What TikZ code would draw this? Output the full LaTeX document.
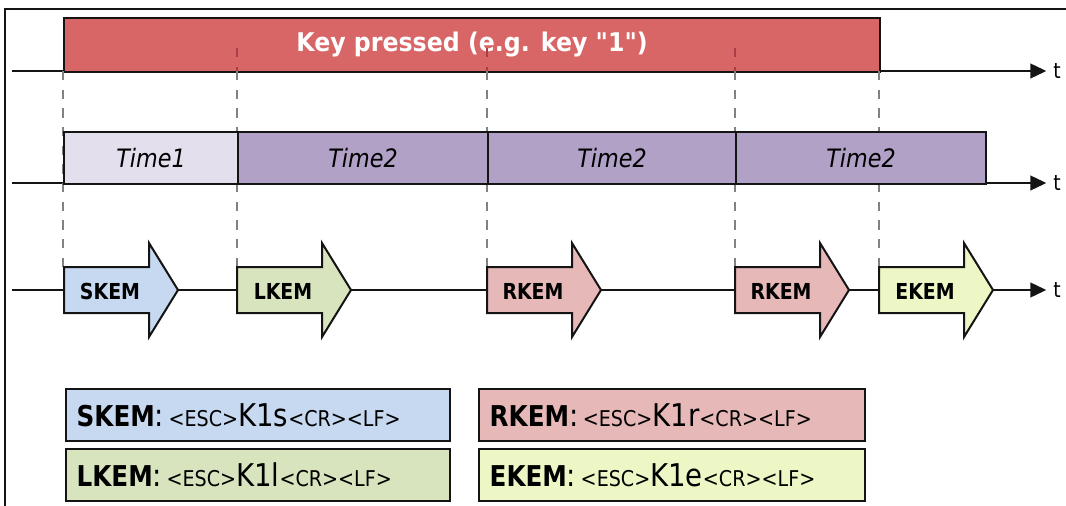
\documentclass[tikz,border=0pt]{standalone}
\usepackage{fontspec}
\setmainfont{DejaVu Sans}[FakeStretch=0.88]
\newfontfamily\bfont{DejaVu Sans}[FakeStretch=0.92]
\newfontfamily\nbfont{DejaVu Sans}[FakeStretch=0.86]
\usetikzlibrary{arrows.meta}
\definecolor{keyred}{RGB}{217,102,102}
\definecolor{dashred}{RGB}{170,62,68}
\definecolor{guidegray}{RGB}{130,130,130}
\definecolor{timeone}{RGB}{228,223,236}
\definecolor{timetwo}{RGB}{177,161,199}
\definecolor{skemc}{RGB}{198,217,240}
\definecolor{lkemc}{RGB}{215,228,189}
\definecolor{rkemc}{RGB}{230,184,183}
\definecolor{ekemc}{RGB}{236,247,197}
\definecolor{edge}{RGB}{20,20,20}
\newcommand\kemarrow[4]{%
  \draw[kemline, fill=#2] (#1,267) -- ++(85,0) -- ++(0,-24) -- ++(29,47) -- ++(-29,47) -- ++(0,-24) -- ++(-85,0) -- cycle;
  \node[kemlabel] (#3) at (#1+46,291) {#4};}
\tikzset{
  axis/.style={draw=edge, line width=1.6pt},
  axistip/.style={-{Triangle[length=12pt,width=11pt]}},
  tlabel/.style={anchor=west, inner sep=0pt, font=\fontsize{16}{16}\selectfont},
  boxline/.style={draw=edge, line width=1.5pt},
  keybox/.style={boxline, fill=keyred, anchor=north west, inner sep=0pt,
    minimum width=612pt, minimum height=40.5pt, text=white,
    font=\bfont\bfseries\fontsize{19.3}{19.3}\selectfont},
  timebox/.style={boxline, anchor=north west, inner sep=0pt, minimum height=39pt,
    font=\itshape\fontsize{19}{19}\selectfont},
  guide/.style={draw=guidegray, line width=1.1pt, dash pattern=on 7pt off 7pt},
  guidetop/.style={guide, draw=dashred},
  kemline/.style={draw=edge, line width=1.5pt, line join=miter},
  kemlabel/.style={inner sep=0pt, font=\nbfont\bfseries\fontsize{16.5}{16.5}\selectfont},
  legend/.style={boxline, anchor=north west, minimum height=39pt, inner xsep=8pt,
    inner ysep=0pt, align=left},
}
\newcommand\lbig[1]{{\nbfont\bfseries\fontsize{21.5}{21.5}\selectfont #1}}
\newcommand\lreg[1]{{\fontsize{23.5}{23.5}\selectfont #1}}
\newcommand\lsmall[1]{{\fontsize{16.3}{16.3}\selectfont #1}}
\begin{document}
\begin{tikzpicture}[x=0.75pt,y=-0.75pt]
\useasboundingbox (0,0) rectangle (1066,506);
% frame
\draw[draw=edge, line width=0.9pt] (5,506) -- (5,9) -- (1066,9);
% axes
\coordinate (a1) at (12,71);
\coordinate (a2) at (12,183);
\coordinate (a3) at (12,290);
\node[tlabel] (t1) at (1053,71) {t};
\node[tlabel] (t2) at (1053,183) {t};
\node[tlabel] (t3) at (1053,290) {t};
\draw[axis, axistip] (a1) -- ([xshift=-5pt]t1.west);
\draw[axis, axistip] (a2) -- ([xshift=-5pt]t2.west);
\draw[axis, axistip] (a3) -- ([xshift=-5pt]t3.west);
% key pressed
\node[keybox] (key) at (63,17) {Key pressed (e.g. key "1")};
% guide lines
\draw[guidetop] (237,48) -- (237,71);
\draw[guidetop] (487,48) -- (487,71);
\draw[guidetop] (735,48) -- (735,71);
\draw[guide] (63,71) -- (63,267);
\draw[guide] (237,71) -- (237,267);
\draw[guide] (487,71) -- (487,267);
\draw[guide] (735,71) -- (735,267);
\draw[guide] (879,71) -- (879,267);
% time bar
\node[timebox, fill=timeone, minimum width=130.5pt] (time1) at (63,131) {Time1};
\node[timebox, fill=timetwo, minimum width=187.5pt] (time2a) at (237,131) {Time2};
\node[timebox, fill=timetwo, minimum width=186pt] (time2b) at (487,131) {Time2};
\node[timebox, fill=timetwo, minimum width=187.5pt] (time2c) at (735,131) {Time2};
% messages
\kemarrow{64}{skemc}{skem}{SKEM}
\kemarrow{237}{lkemc}{lkem}{LKEM}
\kemarrow{487}{rkemc}{rkem1}{RKEM}
\kemarrow{735}{rkemc}{rkem2}{RKEM}
\kemarrow{879}{ekemc}{ekem}{EKEM}
% legend
\node[legend, fill=skemc, text width=272pt] (legS) at (65,388)
  {\lbig{SKEM}\lreg{: }\lsmall{<ESC>}\lreg{K1s}\lsmall{<CR><LF>}};
\node[legend, fill=lkemc, text width=272pt] (legL) at (65,448)
  {\lbig{LKEM}\lreg{: }\lsmall{<ESC>}\lreg{K1l}\lsmall{<CR><LF>}};
\node[legend, fill=rkemc, text width=273.5pt] (legR) at (478,388)
  {\lbig{RKEM}\lreg{: }\lsmall{<ESC>}\lreg{K1r}\lsmall{<CR><LF>}};
\node[legend, fill=ekemc, text width=273.5pt] (legE) at (478,448)
  {\lbig{EKEM}\lreg{: }\lsmall{<ESC>}\lreg{K1e}\lsmall{<CR><LF>}};
\end{tikzpicture}
\end{document}
